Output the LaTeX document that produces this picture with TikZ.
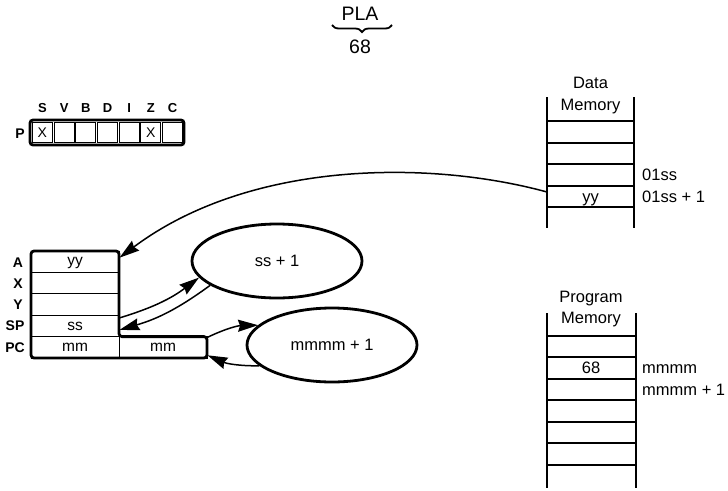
\documentclass[tikz,border=0pt]{standalone}
\usepackage{fontspec}
\setmainfont{Liberation Sans}
\usetikzlibrary{arrows.meta,shapes.geometric,decorations.pathreplacing}
\tikzset{>={Stealth[length=20pt,width=12pt,inset=2pt]}}
\begin{document}
\begin{tikzpicture}[x=1pt,y=-1pt,
  lbl/.style={font=\fontsize{16.5}{18}\selectfont, inner sep=0pt, text height=11.5pt, text depth=0pt},
  biglbl/.style={font=\fontsize{19.5}{22}\selectfont, inner sep=0pt, text height=14pt, text depth=0pt},
  reglbl/.style={font=\fontsize{14}{16}\selectfont\bfseries, inner sep=0pt, text height=10pt, text depth=0pt},
  flaglbl/.style={font=\fontsize{13}{15}\selectfont\bfseries, inner sep=0pt, text height=9pt, text depth=0pt},
  cell/.style={draw, line width=1pt, minimum width=88pt, minimum height=21.4pt, inner sep=0pt,
               font=\fontsize{15.5}{17}\selectfont, text height=8.5pt, text depth=0pt},
  flagcell/.style={draw, line width=1pt, minimum width=20pt, minimum height=20pt, inner sep=0pt},
  flagx/.style={font=\fontsize{14}{16}\selectfont, inner sep=0pt, text height=10pt, text depth=0pt},
  oval/.style={ellipse, draw, line width=2.8pt, minimum width=170pt, minimum height=74pt, inner sep=0pt,
               font=\fontsize{16.5}{18}\selectfont},
  conn/.style={line width=1.5pt, ->},
  outer/.style={line width=2.8pt, rounded corners=3pt},
  rail/.style={line width=2.8pt},
  rung/.style={line width=1.7pt}
]
\useasboundingbox (0,0) rectangle (728,490);

% PLA / 68
\node[biglbl] (pla) at (360,13) {PLA};
\draw[line width=1.8pt, decorate, decoration={brace, mirror, amplitude=7pt}] (332,25) -- (392,25);
\node[biglbl] (op) at (360,46) {68};

% Flag register
\node[reglbl] (plbl) at (20,133) {P};
\foreach \i/\l in {0/S,1/V,2/B,3/D,4/I,5/Z,6/C}{
  \node[flagcell] (f\i) at ({42.4+21.7*\i},132.5) {};
  \node[flaglbl] (fl\i) at ({42.4+21.7*\i},108) {\l};
}
\node[flagx] (xs) at (f0) {X};
\node[flagx] (xz) at (f5) {X};
\draw[outer] (30,120) rectangle (184,145);

% Registers
\node[cell] (A)  at (75,261.7) {yy};
\node[cell] (X)  at (75,283.1) {};
\node[cell] (Y)  at (75,304.5) {};
\node[cell] (SP) at (75,325.9) {ss};
\node[cell] (PC1) at (75,347.3) {mm};
\node[cell] (PC2) at (163,347.3) {mm};
\draw[outer] (31,251) -- (119,251) -- (119,336.6) -- (207,336.6) -- (207,358) -- (31,358) -- cycle;
\node[reglbl] (la) at (18,262) {A};
\node[reglbl] (lx) at (18,283) {X};
\node[reglbl] (ly) at (18,304) {Y};
\node[reglbl] (lsp) at (15,325) {SP};
\node[reglbl] (lpc) at (15,347) {PC};

% Ellipses
\node[oval] (ssp) at (277,261) {ss + 1};
\node[oval] (mmp) at (332,345) {mmmm + 1};

% Data memory
\draw[rail] (547,97) -- (547,228);
\draw[rail] (634,97) -- (634,228);
\foreach \y in {121,143,164,186,207} \draw[rung] (547,\y) -- (634,\y);
\node[lbl] (dt1) at (590.5,83) {Data};
\node[lbl] (dt2) at (590.5,105) {Memory};
\node[lbl] (dyy) at (590.5,197) {yy};
\node[lbl, anchor=west] (d1) at (642,175) {01ss};
\node[lbl, anchor=west] (d2) at (642,197) {01ss + 1};
\coordinate (dsrc) at (547,192);

% Program memory
\draw[rail] (547,313) -- (547,488);
\draw[rail] (636,313) -- (636,488);
\foreach \y in {336,357,379,400,422,443,465} \draw[rung] (547,\y) -- (636,\y);
\node[lbl] (pt1) at (591,297) {Program};
\node[lbl] (pt2) at (591,318) {Memory};
\node[lbl] (p68) at (591,368) {68};
\node[lbl, anchor=west] (p1) at (642,368) {mmmm};
\node[lbl, anchor=west] (p2) at (642,390) {mmmm + 1};

% Connectors
\draw[conn] (dsrc) .. controls (430,160) and (250,160) .. ([yshift=4pt]A.east);
\draw[conn] ([yshift=8pt]SP.east) to[bend right=10] (ssp.192);
\draw[conn] (ssp.200) to[bend left=10] ([yshift=-4pt]SP.east);
\draw[conn] ([yshift=10pt]PC2.east) to[bend left=12] (mmp.165);
\draw[conn] (mmp.196) to[bend left=12] ([yshift=-8pt]PC2.east);
\end{tikzpicture}
\end{document}
